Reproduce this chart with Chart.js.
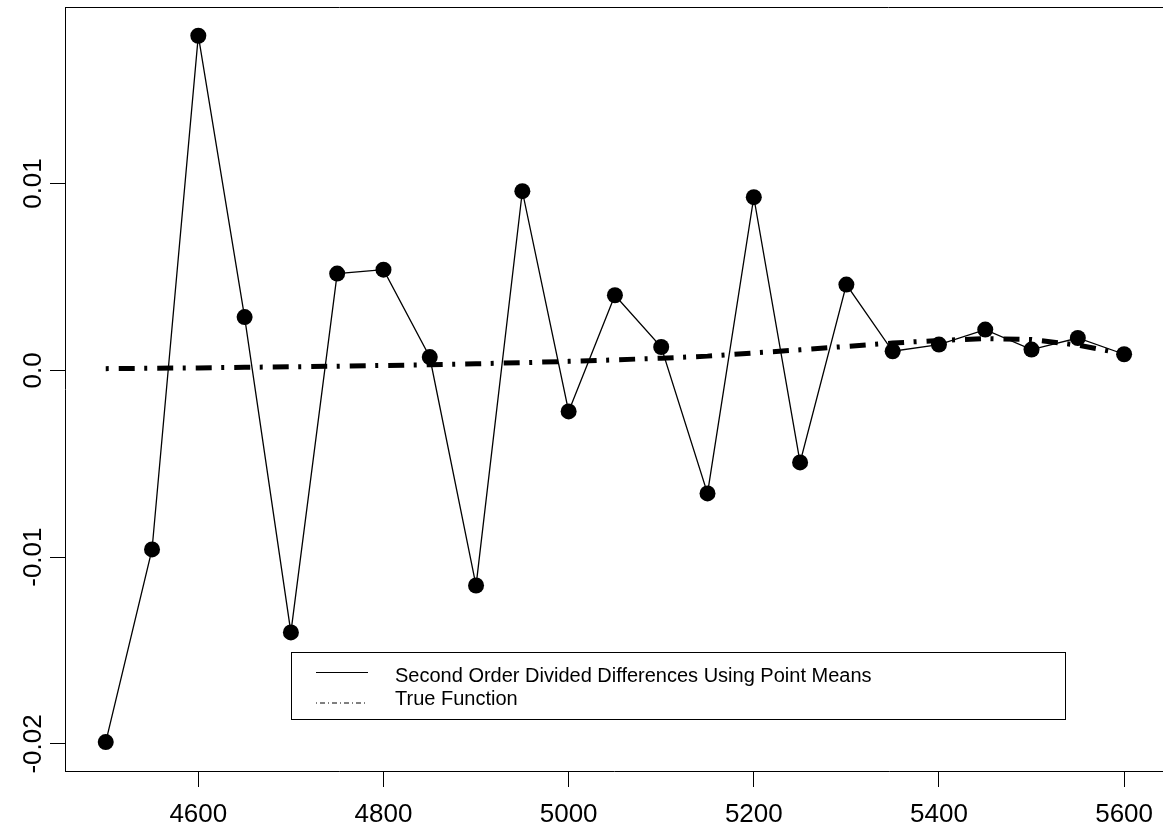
<!DOCTYPE html>
<html>
<head>
<meta charset="utf-8">
<script src="https://cdn.jsdelivr.net/npm/chart.js@4/dist/chart.umd.min.js"></script>
<style>
  html, body { margin: 0; padding: 0; background: #fff; overflow: hidden; }
  canvas { display: block; }
</style>
</head>
<body>
<canvas id="chart" width="1163" height="830"></canvas>
<script>
// x positions of the divided differences
const xValues = [4500, 4550, 4600, 4650, 4700, 4750, 4800, 4850, 4900, 4950, 5000, 5050,
                 5100, 5150, 5200, 5250, 5300, 5350, 5400, 5450, 5500, 5550, 5600];
// second order divided differences using point means
const meanDiffs = [-0.0199, -0.00959, 0.01791, 0.00285, -0.01403, 0.00518, 0.00539, 0.00071,
                   -0.01152, 0.00959, -0.0022, 0.00402, 0.00125, -0.00659, 0.00927, -0.00493,
                   0.00459, 0.00102, 0.00138, 0.00218, 0.00111, 0.00173, 0.00086];
// true function
const trueValues = [0.00009, 0.00011, 0.00013, 0.00016, 0.00019, 0.00022, 0.00026, 0.0003,
                    0.00035, 0.00041, 0.00048, 0.00056, 0.00065, 0.00076, 0.00093, 0.0011,
                    0.00128, 0.00146, 0.0016, 0.0017, 0.00165, 0.00135, 0.00088];
const seriesLabels = ['Second Order Divided Differences Using Point Means', 'True Function'];
const xTicks = [4600, 4800, 5000, 5200, 5400, 5600];
const xTickLabels = ['4600', '4800', '5000', '5200', '5400', '5600'];
const yTicks = [-0.02, -0.01, 0, 0.01];
const yTickLabels = ['-0.02', '-0.01', '0.0', '0.01'];

const FONT = '"Liberation Sans", Arial, sans-serif';

// tick labels, top frame line and the boxed legend
const decorations = {
  id: 'decorations',
  afterDraw(chart) {
    const ctx = chart.ctx;
    const area = chart.chartArea;
    const xs = chart.scales.x, ys = chart.scales.y;
    ctx.save();
    ctx.strokeStyle = '#000';
    ctx.lineWidth = 1;
    ctx.beginPath();
    ctx.moveTo(area.left, Math.round(area.top) + 0.5);
    ctx.lineTo(area.right, Math.round(area.top) + 0.5);
    ctx.stroke();

    ctx.fillStyle = '#000';
    ctx.font = '26px ' + FONT;
    ctx.textAlign = 'center';
    ctx.textBaseline = 'alphabetic';
    xTicks.forEach((v, i) => {
      ctx.fillText(xTickLabels[i], xs.getPixelForValue(v), xs.top + 51);
    });
    yTicks.forEach((v, i) => {
      ctx.save();
      ctx.translate(41, ys.getPixelForValue(v));
      ctx.rotate(-Math.PI / 2);
      ctx.fillText(yTickLabels[i], 0, 0);
      ctx.restore();
    });

    // legend
    ctx.lineWidth = 1;
    ctx.strokeRect(291.5, 652.5, 774, 67);
    ctx.beginPath();
    ctx.moveTo(316, 672.5);
    ctx.lineTo(368, 672.5);
    ctx.stroke();
    ctx.setLineDash([1, 3, 5, 3]);
    ctx.beginPath();
    ctx.moveTo(316, 703);
    ctx.lineTo(368, 703);
    ctx.stroke();
    ctx.setLineDash([]);
    ctx.font = '20px ' + FONT;
    ctx.textAlign = 'left';
    ctx.fillText(chart.data.datasets[1].label, 395, 681.5);
    ctx.fillText(chart.data.datasets[0].label, 395, 705);
    ctx.restore();
  }
};

new Chart(document.getElementById('chart'), {
  type: 'line',
  data: {
    datasets: [
      {
        label: seriesLabels[1],
        data: xValues.map((x, i) => ({ x: x, y: trueValues[i] })),
        borderColor: '#000',
        borderWidth: 5,
        borderDash: [3, 10, 16, 9.5],
        borderCapStyle: 'butt',
        pointRadius: 0,
        fill: false,
        order: 0
      },
      {
        label: seriesLabels[0],
        data: xValues.map((x, i) => ({ x: x, y: meanDiffs[i] })),
        borderColor: '#000',
        borderWidth: 1.3,
        pointRadius: 8,
        pointBackgroundColor: '#000',
        pointBorderWidth: 0,
        fill: false,
        order: 1
      }
    ]
  },
  options: {
    responsive: false,
    animation: false,
    devicePixelRatio: 1,
    layout: { autoPadding: false, padding: { top: 7, left: 0, right: 0, bottom: 0 } },
    elements: { line: { tension: 0 } },
    plugins: {
      legend: { display: false },
      tooltip: { enabled: false }
    },
    scales: {
      x: {
        type: 'linear',
        min: 4456,
        max: 5642,
        afterBuildTicks: (s) => { s.ticks = xTicks.map(v => ({ value: v })); },
        afterFit: (s) => { s.height = 59; },
        ticks: { display: false },
        grid: { drawOnChartArea: false, drawTicks: true, tickLength: 16, color: '#000', lineWidth: 1 },
        border: { display: true, color: '#000', width: 1 }
      },
      y: {
        type: 'linear',
        min: -0.02145,
        max: 0.01945,
        afterBuildTicks: (s) => { s.ticks = yTicks.map(v => ({ value: v })); },
        afterFit: (s) => { s.width = 65; },
        ticks: { display: false },
        grid: { drawOnChartArea: false, drawTicks: true, tickLength: 15, color: '#000', lineWidth: 1 },
        border: { display: true, color: '#000', width: 1 }
      }
    }
  },
  plugins: [decorations]
});
</script>
</body>
</html>
